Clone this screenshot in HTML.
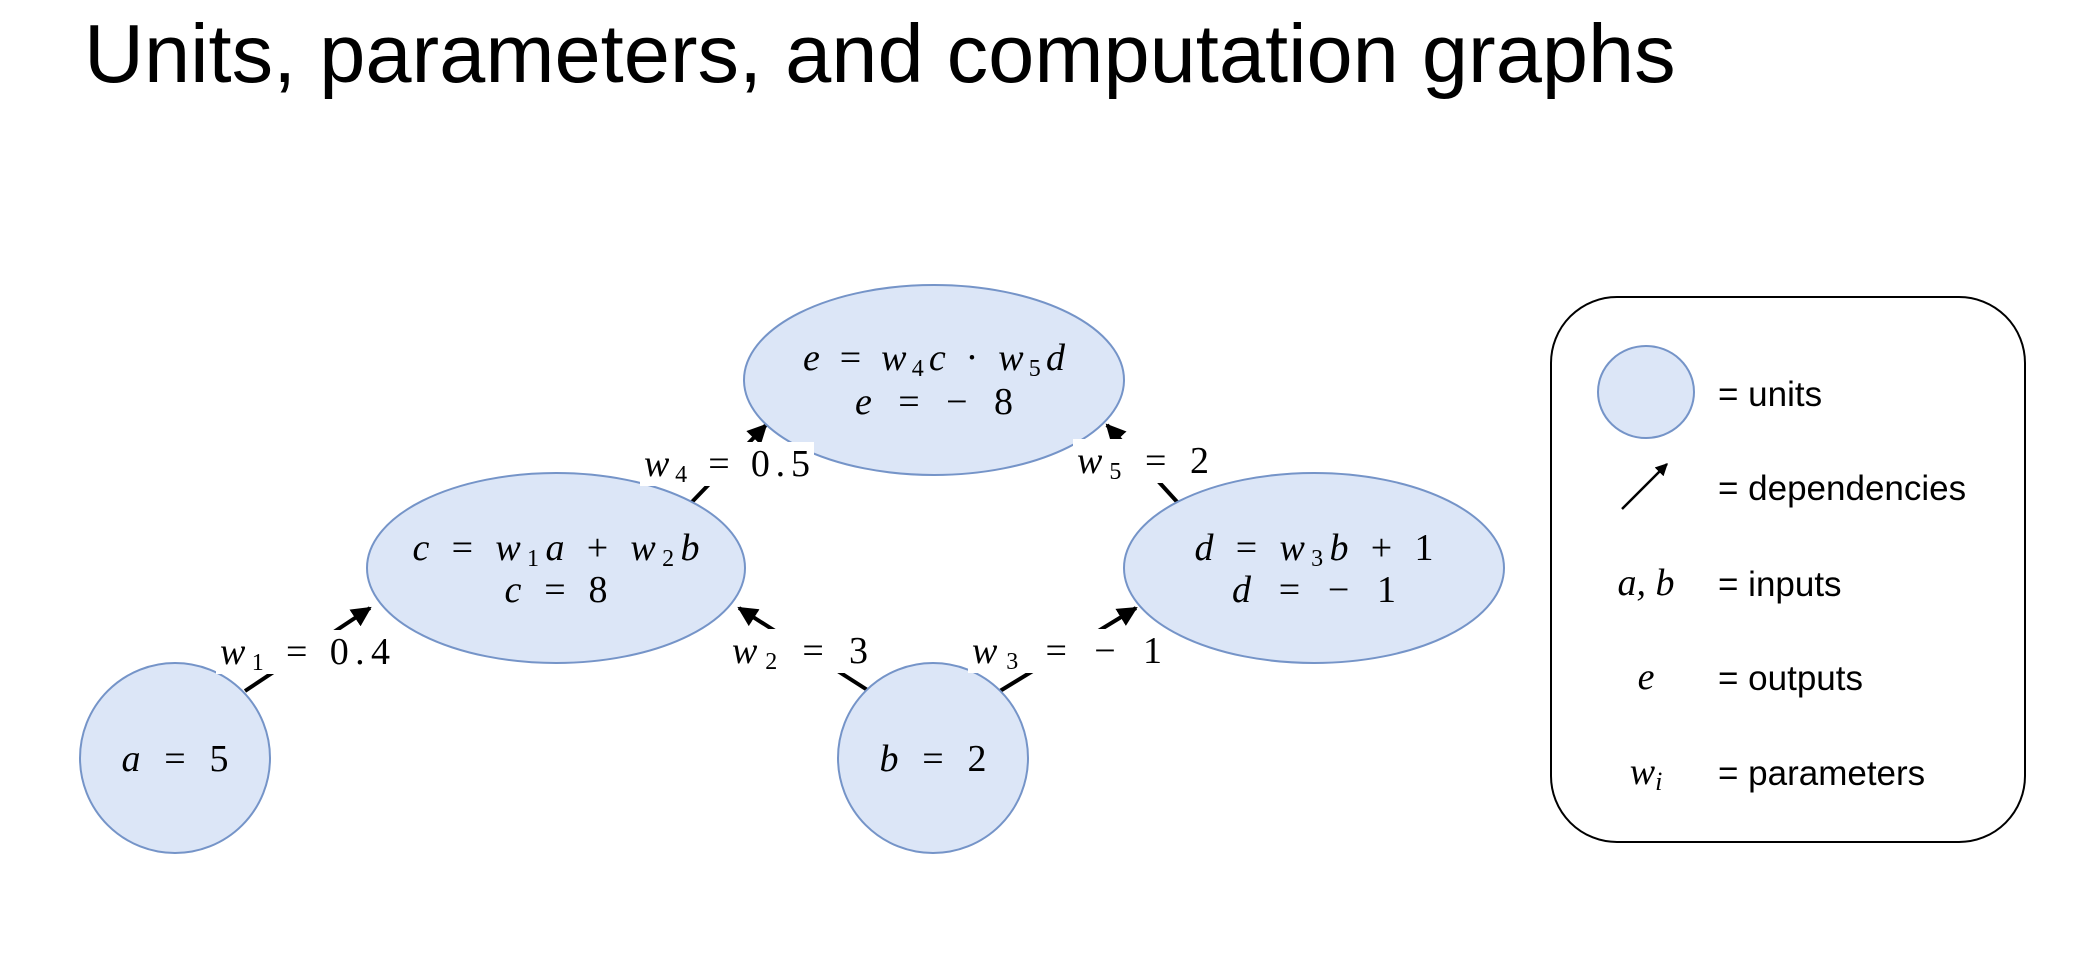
<!DOCTYPE html>
<html><head><meta charset="utf-8"><style>
html,body{margin:0;padding:0;background:#fff;}
svg{display:block;}
.m{font-family:"Liberation Serif",serif;font-size:38px;fill:#000;}
.i{font-style:italic;}
.lg{font-family:"Liberation Sans",sans-serif;font-size:35px;fill:#000;}
</style></head><body>
<svg width="2096" height="980" viewBox="0 0 2096 980">
<defs><marker id="ah" viewBox="0 0 10 10" refX="9" refY="5" markerWidth="5" markerHeight="5" orient="auto"><path d="M0,0 L10,5 L0,10 Z" fill="#000"/></marker></defs>
<text x="84" y="82" font-family="Liberation Sans, sans-serif" font-size="83" fill="#000">Units, parameters, and computation graphs</text>

<g stroke="#000" stroke-width="4" marker-end="url(#ah)">
<line x1="245" y1="691" x2="370" y2="608"/>
<line x1="869" y1="691" x2="739" y2="608"/>
<line x1="1000" y1="691" x2="1136" y2="608"/>
<line x1="690" y1="504" x2="766" y2="425"/>
<line x1="1179" y1="504" x2="1107" y2="425"/>
</g>

<g fill="#dce6f7" stroke="#7594c8" stroke-width="2">
<ellipse cx="934" cy="380" rx="190" ry="95"/>
<ellipse cx="556" cy="568" rx="189" ry="95"/>
<ellipse cx="1314" cy="568" rx="190" ry="95"/>
<circle cx="175" cy="758" r="95"/>
<circle cx="933" cy="758" r="95"/>
</g>

<g class="m" text-anchor="middle">
<text x="934" y="370" textLength="262" lengthAdjust="spacing"><tspan class="i">e</tspan> = <tspan class="i">w</tspan><tspan font-size="24" dy="6">4</tspan><tspan dy="-6" class="i">c</tspan> · <tspan class="i">w</tspan><tspan font-size="24" dy="6">5</tspan><tspan dy="-6" class="i">d</tspan></text>
<text x="934" y="414" textLength="158" lengthAdjust="spacing"><tspan class="i">e</tspan> =  − 8</text>
<text x="556" y="560" textLength="287" lengthAdjust="spacing"><tspan class="i">c</tspan> = <tspan class="i">w</tspan><tspan font-size="24" dy="6">1</tspan><tspan dy="-6" class="i">a</tspan> + <tspan class="i">w</tspan><tspan font-size="24" dy="6">2</tspan><tspan dy="-6" class="i">b</tspan></text>
<text x="556" y="602" textLength="103" lengthAdjust="spacing"><tspan class="i">c</tspan> = 8</text>
<text x="1314" y="560" textLength="239" lengthAdjust="spacing"><tspan class="i">d</tspan> = <tspan class="i">w</tspan><tspan font-size="24" dy="6">3</tspan><tspan dy="-6" class="i">b</tspan> + 1</text>
<text x="1314" y="602" textLength="164" lengthAdjust="spacing"><tspan class="i">d</tspan> =  − 1</text>
<text x="175" y="771" textLength="107" lengthAdjust="spacing"><tspan class="i">a</tspan> = 5</text>
<text x="933" y="771" textLength="107" lengthAdjust="spacing"><tspan class="i">b</tspan> = 2</text>
</g>

<g>
<rect x="216" y="630" width="178" height="44" fill="#fff"/>
<rect x="728" y="629" width="146" height="44" fill="#fff"/>
<rect x="968" y="629" width="198" height="44" fill="#fff"/>
<rect x="640" y="442" width="174" height="44" fill="#fff"/>
<rect x="1073" y="439" width="140" height="44" fill="#fff"/>
<g class="m" text-anchor="middle">
<text x="305" y="664" textLength="170" lengthAdjust="spacing"><tspan class="i">w</tspan><tspan font-size="24" dy="6">1</tspan><tspan dy="-6"> = 0.4</tspan></text>
<text x="800" y="663" textLength="136" lengthAdjust="spacing"><tspan class="i">w</tspan><tspan font-size="24" dy="6">2</tspan><tspan dy="-6"> = 3</tspan></text>
<text x="1067" y="663" textLength="190" lengthAdjust="spacing"><tspan class="i">w</tspan><tspan font-size="24" dy="6">3</tspan><tspan dy="-6"> =  − 1</tspan></text>
<text x="727" y="476" textLength="166" lengthAdjust="spacing"><tspan class="i">w</tspan><tspan font-size="24" dy="6">4</tspan><tspan dy="-6"> = 0.5</tspan></text>
<text x="1143" y="473" textLength="132" lengthAdjust="spacing"><tspan class="i">w</tspan><tspan font-size="24" dy="6">5</tspan><tspan dy="-6"> = 2</tspan></text>
</g></g>

<g>
<rect x="1551" y="297" width="474" height="545" rx="66" fill="#fff" stroke="#000" stroke-width="2"/>
<ellipse cx="1646" cy="392" rx="48" ry="46" fill="#dce6f7" stroke="#7594c8" stroke-width="2"/>
<line x1="1622" y1="509" x2="1667" y2="464" stroke="#000" stroke-width="2.5" marker-end="url(#ah)"/>
<g class="m i" text-anchor="middle" font-size="40">
<text x="1646" y="595">a, b</text>
<text x="1646" y="689">e</text>
<text x="1646" y="784">w<tspan font-size="26" dy="6">i</tspan></text>
</g>
<text class="lg" x="1718" y="406">= units</text>
<text class="lg" x="1718" y="500">= dependencies</text>
<text class="lg" x="1718" y="596">= inputs</text>
<text class="lg" x="1718" y="690">= outputs</text>
<text class="lg" x="1718" y="785">= parameters</text>
</g>
</svg>
</body></html>
